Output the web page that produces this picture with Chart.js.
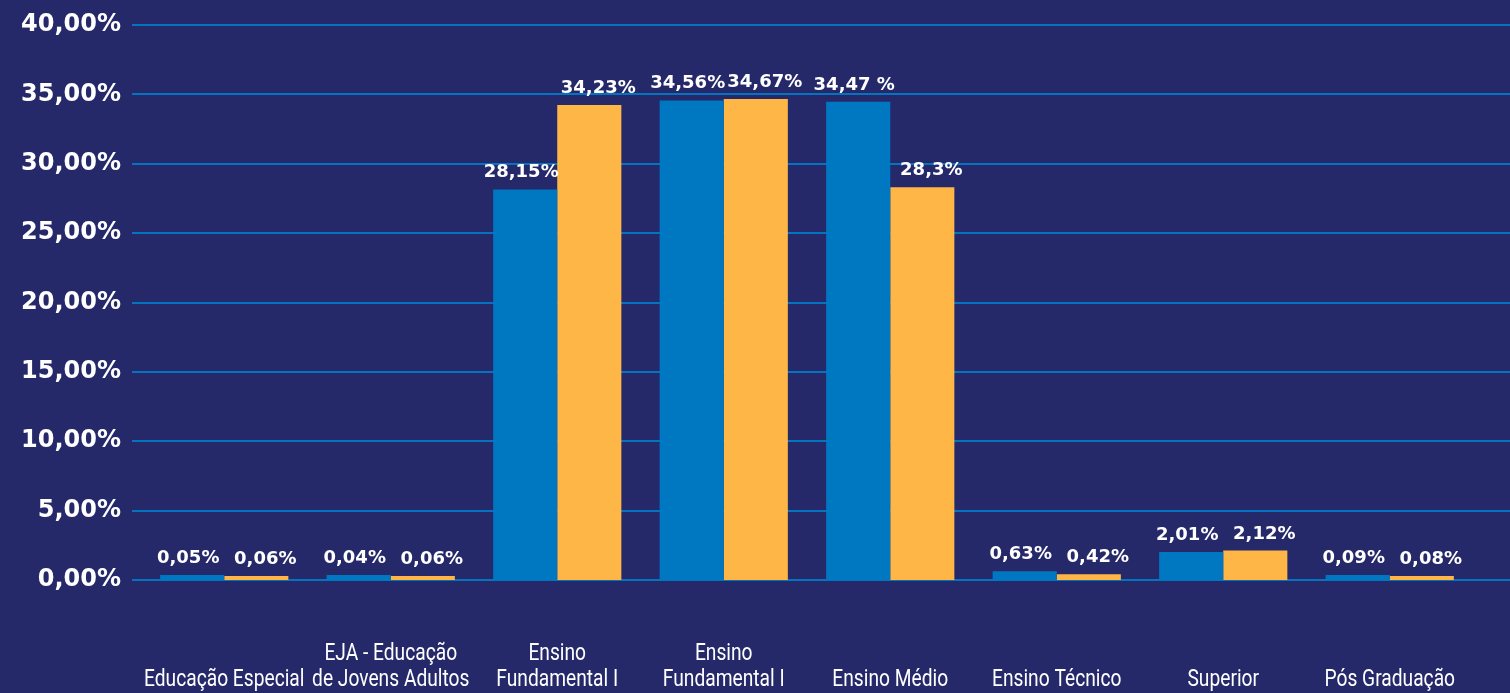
<!DOCTYPE html>
<html>
<head>
<meta charset="utf-8">
<script src="https://cdn.jsdelivr.net/npm/chart.js@4.4.1/dist/chart.umd.min.js"></script>
<style>
  html, body { margin: 0; padding: 0; background: #25296a; }
  #wrap { width: 1510px; height: 693px; }
</style>
</head>
<body>
<div id="wrap"><canvas id="chart"></canvas></div>
<script>
// categories (multi-line, bottom aligned)
const categories = [
  ['Educação Especial'],
  ['EJA - Educação', 'de Jovens Adultos'],
  ['Ensino', 'Fundamental I'],
  ['Ensino', 'Fundamental I'],
  ['Ensino Médio'],
  ['Ensino Técnico'],
  ['Superior'],
  ['Pós Graduação']
];
const blueValues = [0.05, 0.04, 28.15, 34.56, 34.47, 0.63, 2.01, 0.09];
const yellowValues = [0.06, 0.06, 34.23, 34.67, 28.3, 0.42, 2.12, 0.08];
const blueLabels = ['0,05%', '0,04%', '28,15%', '34,56%', '34,47 %', '0,63%', '2,01%', '0,09%'];
const yellowLabels = ['0,06%', '0,06%', '34,23%', '34,67%', '28,3%', '0,42%', '2,12%', '0,08%'];
const yTicks = [0, 5, 10, 15, 20, 25, 30, 35, 40];

const gridColor = '#0574c0';

// gridlines across the whole width, drawn behind the bars
const gridPlugin = {
  id: 'fullGrid',
  beforeDatasetsDraw(chart) {
    const ctx = chart.ctx;
    const y = chart.scales.y;
    ctx.save();
    ctx.strokeStyle = gridColor;
    ctx.lineWidth = 2;
    yTicks.forEach(v => {
      const py = Math.round(y.getPixelForValue(v));
      ctx.beginPath();
      ctx.moveTo(chart.chartArea.left - 9, py);
      ctx.lineTo(chart.width, py);
      ctx.stroke();
    });
    ctx.restore();
  }
};

// value labels above each bar + condensed category labels
const valueLabels = {
  id: 'valueLabels',
  afterDatasetsDraw(chart) {
    const ctx = chart.ctx;
    const texts = [blueLabels, yellowLabels];
    const shift = [-4, 9];
    ctx.save();
    ctx.fillStyle = '#ffffff';
    ctx.font = 'bold 18px "DejaVu Sans"';
    ctx.textAlign = 'center';
    ctx.textBaseline = 'alphabetic';
    chart.data.datasets.forEach((ds, i) => {
      chart.getDatasetMeta(i).data.forEach((bar, j) => {
        ctx.fillText(texts[i][j], bar.x + shift[i], bar.y - 12);
      });
    });

    // category names, bottom aligned, narrow like the original
    const x = chart.scales.x;
    ctx.font = '24px Roboto';
    categories.forEach((lines, i) => {
      const cx = x.getPixelForValue(i);
      lines.slice().reverse().forEach((line, k) => {
        ctx.save();
        ctx.translate(cx, 686 - k * 26);
        ctx.scale(0.8, 1);
        ctx.fillText(line, 0, 0);
        ctx.restore();
      });
    });
    ctx.restore();
  }
};

new Chart(document.getElementById('chart'), {
  type: 'bar',
  data: {
    labels: categories,
    datasets: [{
      data: blueValues,
      backgroundColor: '#0078c1',
      minBarLength: 5
    }, {
      data: yellowValues,
      backgroundColor: '#feb747',
      minBarLength: 4
    }]
  },
  options: {
    responsive: true,
    maintainAspectRatio: false,
    animation: false,
    layout: { padding: { top: 25, right: 37, left: 0, bottom: 0 } },
    categoryPercentage: 0.77,
    barPercentage: 1.0,
    plugins: { legend: { display: false }, tooltip: { enabled: false } },
    scales: {
      y: {
        min: 0,
        max: 40,
        afterBuildTicks(scale) { scale.ticks = yTicks.map(v => ({ value: v })); },
        afterFit(scale) {
          scale.width = 141;
          scale.paddingTop = 0;
          scale.paddingBottom = 0;
        },
        border: { display: false },
        grid: { display: false, drawTicks: false },
        ticks: {
          color: '#ffffff',
          padding: 20,
          font: { family: '"DejaVu Sans"', size: 24, weight: 'bold' },
          callback: v => v.toFixed(2).replace('.', ',') + '%'
        }
      },
      x: {
        border: { display: false },
        grid: { display: false, drawTicks: false },
        afterFit(scale) { scale.height = 113; },
        ticks: { display: false }
      }
    }
  },
  plugins: [gridPlugin, valueLabels]
});
</script>
</body>
</html>
